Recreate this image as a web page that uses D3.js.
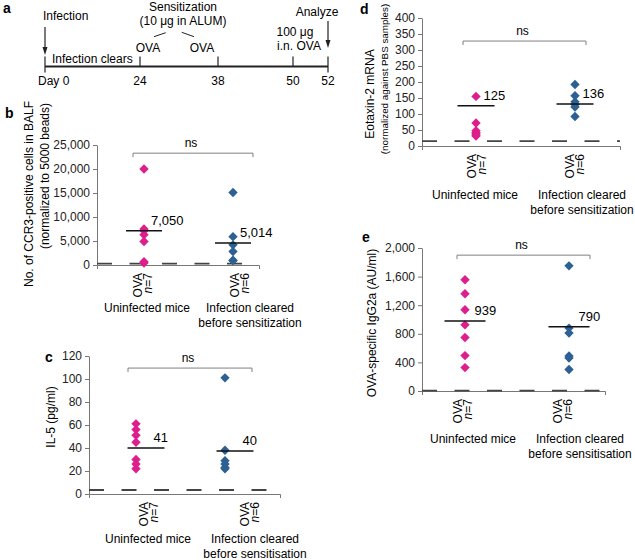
<!DOCTYPE html>
<html>
<head>
<meta charset="utf-8">
<script src="https://cdn.jsdelivr.net/npm/d3@7"></script>
<style>
  body { margin: 0; background: #fff; }
  svg { font-family: "Liberation Sans", Arial, Helvetica, sans-serif; }
  .tick text { font-size: 12px; fill: #222; }
  .narrow .tick text { font-family: "Liberation Sans Narrow", "Arial Narrow", "Liberation Sans", sans-serif; }
  .axis path, .axis line { stroke: #777; }
</style>
</head>
<body>
<svg id="fig" width="635" height="560"></svg>
<script>
// ---- data ----
var groupNames = ["Uninfected mice", "Infection cleared"];

// a: timeline
var timelineDays = [0, 24, 38, 50, 52];
var timelineDayLabels = ["Day 0", "24", "38", "50", "52"];

// b: CCR3+ cells in BALF
var ccr3Uninfected = [20000, 7500, 7200, 6300, 4900, 700, 400];
var ccr3Cleared = [15100, 5900, 4200, 2800, 1000, 900];
var ccr3MeanLabels = ["7,050", "5,014"];
var ccr3MeanLevels = [7150, 4600];
var ccr3Baseline = 300;
var ccr3Ticks = [0, 5000, 10000, 15000, 20000, 25000];

// c: IL-5
var il5Uninfected = [61, 56, 51, 45, 30, 26, 22];
var il5Cleared = [101, 38, 29, 26, 23, 22];
var il5MeanLabels = ["41", "40"];
var il5MeanLevels = [40, 37.5];
var il5Baseline = 3.5;
var il5Ticks = [0, 20, 40, 60, 80, 100, 120];

// d: eotaxin-2 mRNA
var eotaxUninfected = [155, 72, 48, 42, 38, 34, 31];
var eotaxCleared = [192, 157, 138, 130, 122, 92];
var eotaxMeanLabels = ["125", "136"];
var eotaxMeanLevels = [126, 131];
var eotaxBaseline = 15;
var eotaxTicks = [0, 50, 100, 150, 200, 250, 300, 350, 400];

// e: OVA-specific IgG2a
var iggUninfected = [1556, 1360, 1136, 925, 748, 495, 327];
var iggCleared = [1750, 880, 810, 490, 460, 300];
var iggMeanLabels = ["939", "790"];
var iggMeanLevels = [980, 900];
var iggBaseline = 5;
var iggTicks = [0, 400, 800, 1200, 1600, 2000];

var pink = "#dc1f8c", blue = "#2d6193";

var svg = d3.select("#fig");

// ---------- panel a : timeline ----------
var tx = d3.scaleLinear().domain(timelineDays).range([45, 140, 218, 293, 328]);
var lineY = 66.5;
var a = svg.append("g");
a.append("text").attr("x", 3).attr("y", 13).attr("font-weight", "bold").attr("font-size", 14).text("a");
a.append("line").attr("x1", tx(0)).attr("x2", tx(52)).attr("y1", lineY).attr("y2", lineY)
  .attr("stroke", "#222").attr("stroke-width", 2.2);
timelineDays.forEach(function(d, i) {
  var end = (i === 0 || i === timelineDays.length - 1);
  a.append("line").attr("x1", tx(d)).attr("x2", tx(d))
    .attr("y1", lineY - 10).attr("y2", end ? lineY + 6 : lineY)
    .attr("stroke", "#222").attr("stroke-width", 1.2);
  a.append("text").attr("x", i === 0 ? tx(d) - 7 : tx(d)).attr("y", 85)
    .attr("text-anchor", i === 0 ? "start" : "middle").attr("font-size", 12)
    .text(timelineDayLabels[i]);
});
function arrow(x, y1, y2) {
  a.append("line").attr("x1", x).attr("x2", x).attr("y1", y1).attr("y2", y2 - 6)
    .attr("stroke", "#222").attr("stroke-width", 1.2);
  a.append("path").attr("d", "M" + (x - 2.5) + "," + (y2 - 8) + "L" + (x + 2.5) + "," + (y2 - 8) + "L" + x + "," + y2 + "Z")
    .attr("fill", "#222");
}
arrow(tx(0), 27, 55);
arrow(tx(52), 21, 48);
var aText = [
  ["Infection", tx(0) - 2, 20, "start"],
  ["Sensitization", 183, 11, "middle"],
  ["(10 \u03bcg in ALUM)", 183, 25, "middle"],
  ["OVA", tx(24) + 8, 52, "middle"],
  ["OVA", 202, 52, "middle"],
  ["Infection clears", 52, 63, "start"],
  ["100 \u03bcg", 295, 36, "middle"],
  ["i.n. OVA", 299, 50, "middle"],
  ["Analyze", 317, 16, "middle"]
];
aText.forEach(function(t) {
  a.append("text").attr("x", t[1]).attr("y", t[2]).attr("text-anchor", t[3]).attr("font-size", 12).text(t[0]);
});
a.append("line").attr("x1", 154).attr("y1", 36.7).attr("x2", 165.7).attr("y2", 32.7).attr("stroke", "#222");
a.append("line").attr("x1", 181.7).attr("y1", 32.3).attr("x2", 194).attr("y2", 36.7).attr("stroke", "#222");

// ---------- scatter panels ----------
function drawPanel(p) {
  var L = p.layout;
  var g = svg.append("g");
  var y = d3.scaleLinear().domain([0, p.ticks[p.ticks.length - 1]]).range([L.bottom, L.top]);
  var xp = d3.scalePoint().domain(groupNames).range(L.pts);
  var xo = d3.scalePoint().domain(groupNames).range(L.ova);
  var xg = d3.scalePoint().domain(groupNames).range(L.grp);
  var xx = d3.scaleLinear().domain([0, 1]).range([L.left, L.right]);

  g.append("text").attr("x", L.letter[0]).attr("y", L.letter[1])
    .attr("font-weight", "bold").attr("font-size", 14).text(p.id);

  // y axis
  g.append("g").attr("class", "axis" + (p.narrow ? " narrow" : ""))
    .attr("transform", "translate(" + L.left + ",0)")
    .call(d3.axisLeft(y).tickValues(p.ticks).tickFormat(d3.format(",")).tickSize(4).tickPadding(3).tickSizeOuter(0));
  // x axis
  g.append("g").attr("class", "axis")
    .attr("transform", "translate(0," + L.bottom + ")")
    .call(d3.axisBottom(xx).tickValues([]).tickSizeOuter(4));

  // y labels
  p.ylab.forEach(function(l) {
    g.append("text").attr("transform", "translate(" + l.x + "," + l.y + ") rotate(-90)")
      .attr("text-anchor", "middle").attr("dy", "0.35em").attr("font-size", l.size || 12).text(l.t);
  });

  // dashed reference line
  g.append("line").attr("x1", L.left).attr("x2", L.right)
    .attr("y1", y(p.baseline)).attr("y2", y(p.baseline))
    .attr("stroke", "#444").attr("stroke-width", 1.8).attr("stroke-dasharray", "15,17.5");

  // ns bracket
  var by = y(p.nsLevel);
  g.append("path")
    .attr("d", "M" + L.bracket[0] + "," + (by + 4) + "V" + by + "H" + L.bracket[1] + "V" + (by + 4))
    .attr("fill", "none").attr("stroke", "#808080");
  g.append("text").attr("x", (L.bracket[0] + L.bracket[1]) / 2 - 2).attr("y", by - 6)
    .attr("text-anchor", "middle").attr("font-size", 12).text("ns");

  // points
  var sets = [p.uninfected, p.cleared];
  var cols = [pink, blue];
  sets.forEach(function(vals, i) {
    var cx = xp(groupNames[i]);
    g.selectAll(null).data(vals).enter().append("path")
      .attr("d", d3.symbol(d3.symbolSquare, 44))
      .attr("transform", function(d) { return "translate(" + cx + "," + y(d) + ") rotate(45)"; })
      .attr("fill", cols[i]);
    // mean line and label
    var my = y(p.meanLevels[i]);
    var x1 = cx - L.half + (L.shift || 0), x2 = cx + L.half + (L.shift || 0);
    g.append("line").attr("x1", x1).attr("x2", x2).attr("y1", my).attr("y2", my)
      .attr("stroke", "#111").attr("stroke-width", 1.5);
    g.append("text").attr("x", x2 - 11).attr("y", my - 6).attr("font-size", 13).text(p.meanLabels[i]);

    // rotated OVA / n labels
    var ox = xo(groupNames[i]);
    var rt = g.append("g").attr("transform", "translate(" + ox + "," + (L.bottom + 8) + ") rotate(-90)");
    rt.append("text").attr("text-anchor", "end").attr("dy", "0.35em").attr("font-size", 12).text("OVA");
    var nt = rt.append("text").attr("text-anchor", "end").attr("y", 10).attr("dy", "0.35em").attr("font-size", 12);
    nt.append("tspan").attr("font-style", "italic").text("n");
    nt.append("tspan").text("=" + vals.length);

    // group labels
    p.groupLabels[i].forEach(function(t, k) {
      g.append("text").attr("x", xg(groupNames[i])).attr("y", L.bottom + L.grpDy + k * 15)
        .attr("text-anchor", "middle").attr("font-size", 12).text(t);
    });
  });
}

drawPanel({
  id: "b", uninfected: ccr3Uninfected, cleared: ccr3Cleared, meanLabels: ccr3MeanLabels,
  meanLevels: ccr3MeanLevels, baseline: ccr3Baseline, ticks: ccr3Ticks, nsLevel: 23300, narrow: true,
  groupLabels: [["Uninfected mice"], ["Infection cleared", "before sensitization"]],
  ylab: [{ t: "No. of CCR3-positive cells in BALF", x: 29, y: 194 },
         { t: "(normalized to 5000 beads)", x: 45, y: 176 }],
  layout: { top: 145, bottom: 265, left: 97, right: 259, pts: [144, 233], ova: [138, 235], grp: [147, 250],
            grpDy: 47, bracket: [133, 253], half: 18, letter: [5, 118] }
});
drawPanel({
  id: "c", uninfected: il5Uninfected, cleared: il5Cleared, meanLabels: il5MeanLabels,
  meanLevels: il5MeanLevels, baseline: il5Baseline, ticks: il5Ticks, nsLevel: 109.5,
  groupLabels: [["Uninfected mice"], ["Infection cleared", "before sensitisation"]],
  ylab: [{ t: "IL-5 (pg/ml)", x: 51, y: 417 }],
  layout: { top: 356, bottom: 494, left: 89, right: 280, pts: [136, 225], ova: [144, 245], grp: [148, 255],
            grpDy: 49, bracket: [128, 252], half: 18.5, shift: 10, letter: [45, 362] }
});
drawPanel({
  id: "d", uninfected: eotaxUninfected, cleared: eotaxCleared, meanLabels: eotaxMeanLabels,
  meanLevels: eotaxMeanLevels, baseline: eotaxBaseline, ticks: eotaxTicks, nsLevel: 328,
  groupLabels: [["Uninfected mice"], ["Infection cleared", "before sensitization"]],
  ylab: [{ t: "Eotaxin-2 mRNA", x: 370, y: 94 },
         { t: "(normalized against PBS samples)", x: 385, y: 79, size: 9.8 }],
  layout: { top: 18, bottom: 146, left: 422, right: 620, pts: [476, 575], ova: [472, 570], grp: [475, 582],
            grpDy: 53, bracket: [463, 586], half: 18.5, letter: [360, 14] }
});
drawPanel({
  id: "e", uninfected: iggUninfected, cleared: iggCleared, meanLabels: iggMeanLabels,
  meanLevels: iggMeanLevels, baseline: iggBaseline, ticks: iggTicks, nsLevel: 1900,
  groupLabels: [["Uninfected mice"], ["Infection cleared", "before sensitisation"]],
  ylab: [{ t: "OVA-specific IgG2a (AU/ml)", x: 372, y: 323 }],
  layout: { top: 248, bottom: 391, left: 422, right: 605, pts: [465, 569], ova: [458, 558], grp: [473, 580],
            grpDy: 52, bracket: [457, 590], half: 20.5, letter: [362, 242] }
});
</script>
</body>
</html>
